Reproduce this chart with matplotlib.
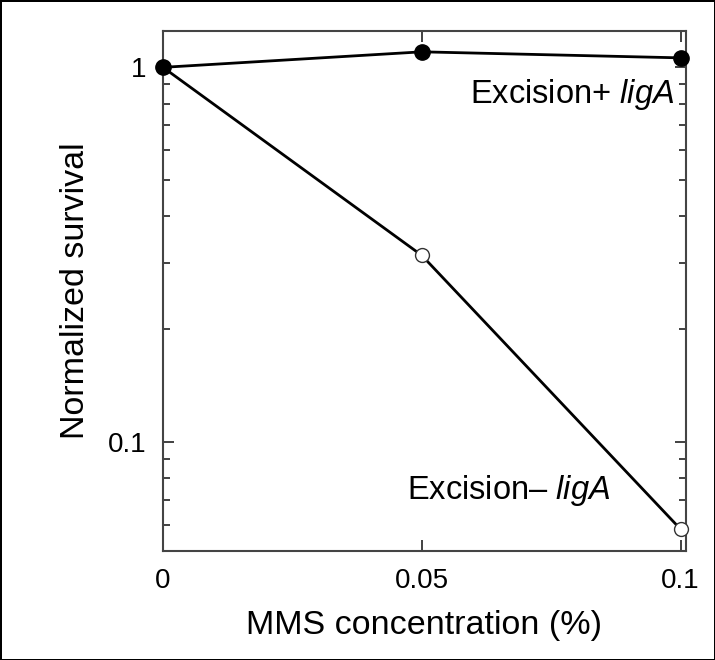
import numpy as np
import matplotlib.pyplot as plt
from matplotlib.ticker import LogLocator, NullFormatter, FixedLocator, FixedFormatter

plt.rcParams['font.family'] = ['Liberation Sans', 'DejaVu Sans']
plt.rcParams['mathtext.fontset'] = 'custom'
plt.rcParams['mathtext.rm'] = 'Liberation Sans'
plt.rcParams['mathtext.it'] = 'Liberation Sans:italic'

# --- DATA ---
mms_conc = [0.0, 0.05, 0.1]
surv_plus = [1.0, 1.10, 1.06]     # Excision+ ligA
surv_minus = [1.0, 0.315, 0.0586]  # Excision- ligA

xticks = [0, 0.05, 0.1]
xtick_labels = ["0", "0.05", "0.1"]
yticks = [0.1, 1]
ytick_labels = ["0.1", "1"]

# --- PLOT ---
fig = plt.figure(figsize=(7.15, 6.6), dpi=100)
fig.patch.set_edgecolor("black")
fig.patch.set_linewidth(2)
ax = fig.add_axes([0.228, 0.165, 0.731, 0.788])

# open circles first so the filled dot at x=0 sits on top
ax.plot(mms_conc, surv_minus, color="black", lw=2, marker="o", ms=10,
        mfc="white", mec="#333333", mew=1.0, zorder=3, clip_on=False)
ax.plot(mms_conc, surv_plus, color="black", lw=2, marker="o", ms=11,
        mfc="black", mec="black", zorder=4, clip_on=False)

ax.set_yscale("log")
ax.set_xlim(0, 0.101)
ax.set_ylim(0.0512, 1.25)

ax.xaxis.set_major_locator(FixedLocator(xticks))
ax.xaxis.set_major_formatter(FixedFormatter(xtick_labels))
ax.yaxis.set_major_locator(FixedLocator(yticks))
ax.yaxis.set_major_formatter(FixedFormatter(ytick_labels))
ax.yaxis.set_minor_locator(LogLocator(base=10, subs=np.arange(2, 10)))
ax.yaxis.set_minor_formatter(NullFormatter())

ax.tick_params(axis="both", which="major", direction="in", length=8, width=1.3,
               top=True, right=True, labelsize=20, pad=12, color="#333333")
ax.tick_params(axis="y", which="minor", direction="in", length=5, width=1.3,
               right=True, color="#333333")
for s in ax.spines.values():
    s.set_linewidth(1.5)
    s.set_color("#444444")

ax.set_xlabel("MMS concentration (%)", fontsize=24.5, labelpad=12)
ax.set_ylabel("Normalized survival", fontsize=24.5, labelpad=12)

ax.text(0.979, 0.877, r"Excision+ $\mathit{ligA}$", transform=ax.transAxes,
        ha="right", va="center", fontsize=23.5)
ax.text(0.466, 0.117, "Excision\u2013 $\\mathit{ligA}$", transform=ax.transAxes,
        ha="left", va="center", fontsize=23.5)

fig.savefig("out.png", dpi=100, edgecolor=fig.get_edgecolor())
